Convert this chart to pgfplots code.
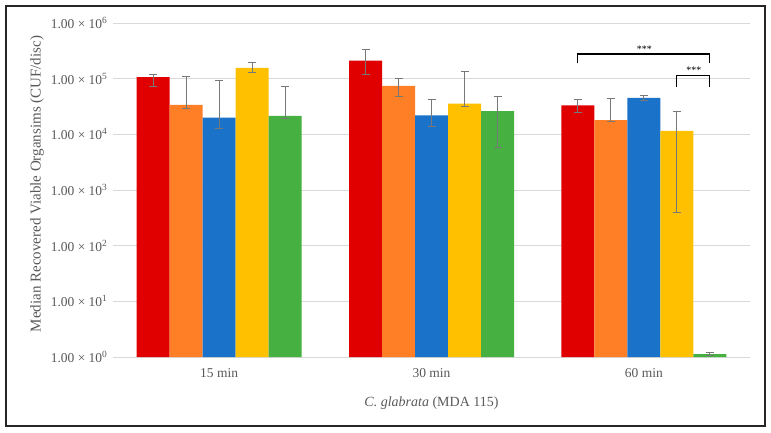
\documentclass[border=0pt]{standalone}
\usepackage{pgfplots}
\pgfplotsset{compat=1.18}
\usepackage{pgfplotstable}
\usepackage{fontspec}
\setmainfont{Liberation Serif}
\definecolor{cRed}{RGB}{224,0,0}
\definecolor{cOrange}{RGB}{255,127,39}
\definecolor{cBlue}{RGB}{26,115,200}
\definecolor{cYellow}{RGB}{255,192,0}
\definecolor{cGreen}{RGB}{70,176,64}
\definecolor{txt}{RGB}{89,89,89}
\definecolor{grd}{RGB}{217,217,217}
\definecolor{err}{RGB}{120,120,120}

\pgfplotstableread{
x y ep em
0 1.07e5 1.3e4 3.4e4
1 2.10e5 1.2e5 9.0e4
2 3.30e4 9.0e3 8.0e3
}\sRed
\pgfplotstableread{
x y ep em
0 3.40e4 7.6e4 5.0e3
1 7.40e4 2.6e4 2.5e4
2 1.80e4 2.7e4 1.0e3
}\sOrange
\pgfplotstableread{
x y ep em
0 2.00e4 7.3e4 7.0e3
1 2.20e4 2.0e4 8.0e3
2 4.50e4 6.0e3 4.0e3
}\sBlue
\pgfplotstableread{
x y ep em
0 1.56e5 3.9e4 2.4e4
1 3.55e4 9.95e4 3.5e3
2 1.15e4 1.45e4 11110
}\sYellow
\pgfplotstableread{
x y ep em
0 2.15e4 5.25e4 2.5e3
1 2.60e4 2.2e4 2.01e4
2 1.13 0.07 0.05
}\sGreen

\begin{document}
\begin{tikzpicture}
\useasboundingbox (-113pt,-75pt) rectangle (658pt,357pt);
\fill[white] (-113pt,-75pt) rectangle (658pt,357pt);
\draw[black!85, line width=1.2pt] (-107pt,-69pt) rectangle (652pt,351pt);
\begin{axis}[
  at={(0pt,0pt)}, anchor=south west,
  scale only axis, width=637pt, height=334pt,
  ymode=log, ymin=1, ymax=1e6, log origin=0,
  xmin=-0.5, xmax=2.5,
  ybar=0pt, bar width=33pt,
  axis line style={draw=none},
  major tick length=0pt, minor tick length=0pt,
  yminorticks=false, xminorticks=false,
  tick style={draw=none},
  ymajorgrids, grid style={grd, line width=0.8pt},
  ytick={1,10,100,1000,10000,100000,1000000},
  yticklabels={1.00 × 10\textsuperscript{0},1.00 × 10\textsuperscript{1},1.00 × 10\textsuperscript{2},1.00 × 10\textsuperscript{3},1.00 × 10\textsuperscript{4},1.00 × 10\textsuperscript{5},1.00 × 10\textsuperscript{6}},
  xtick={0,1,2}, xticklabels={15 min,30 min,60 min},
  tick label style={font=\fontsize{13.5}{15}\selectfont, text=txt},
  yticklabel style={xshift=-2pt},
  xticklabel style={yshift=-8pt},
  error bars/error bar style={err, line width=0.8pt},
  error bars/error mark options={rotate=90, err, mark size=4pt, line width=0.8pt},
  clip=false,
]
\addplot[fill=cRed, draw=none, error bars/.cd, y dir=both, y explicit] table[x=x, y=y, y error plus=ep, y error minus=em]{\sRed};
\addplot[fill=cOrange, draw=none, error bars/.cd, y dir=both, y explicit] table[x=x, y=y, y error plus=ep, y error minus=em]{\sOrange};
\addplot[fill=cBlue, draw=none, error bars/.cd, y dir=both, y explicit] table[x=x, y=y, y error plus=ep, y error minus=em]{\sBlue};
\addplot[fill=cYellow, draw=none, error bars/.cd, y dir=both, y explicit] table[x=x, y=y, y error plus=ep, y error minus=em]{\sYellow};
\addplot[fill=cGreen, draw=none, error bars/.cd, y dir=both, y explicit] table[x=x, y=y, y error plus=ep, y error minus=em]{\sGreen};
\draw[black, line width=1.2pt] (axis cs:1.689,1.89e5) -- (axis cs:1.689,2.78e5) -- (axis cs:2.311,2.78e5) -- (axis cs:2.311,1.89e5);
\node[font=\fontsize{10}{11}\selectfont\itshape] at (axis cs:2.0,3.35e5) {***};
\draw[black, line width=1.2pt] (axis cs:2.155,7.1e4) -- (axis cs:2.155,1.15e5) -- (axis cs:2.311,1.15e5) -- (axis cs:2.311,7.1e4);
\node[font=\fontsize{10}{11}\selectfont\itshape] at (axis cs:2.233,1.39e5) {***};
\end{axis}
\node[rotate=90, text=txt, font=\fontsize{15}{17}\selectfont] at (-76pt,173pt) {Median Recovered Viable Organsims (CUF/disc)};
\node[text=txt, font=\fontsize{14}{16}\selectfont] at (318.5pt,-46pt) {\textit{C. glabrata} (MDA 115)};
\end{tikzpicture}
\end{document}
